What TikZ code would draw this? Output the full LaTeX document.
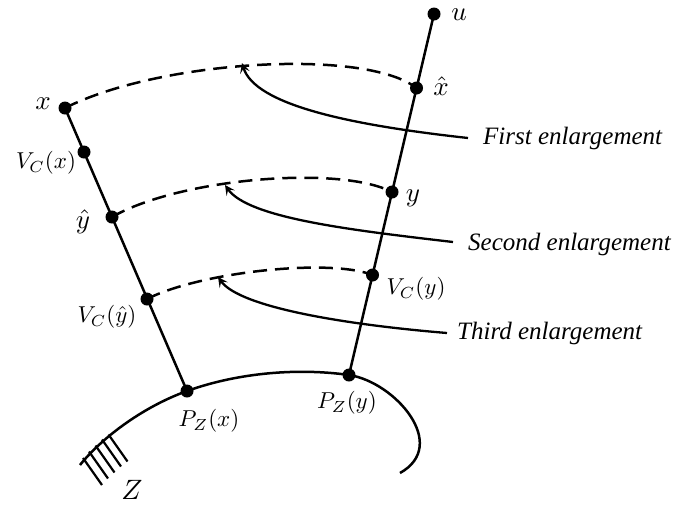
\documentclass[tikz,border=0pt]{standalone}
\usepackage{fontspec}
\setmainfont{Liberation Serif}
\usetikzlibrary{arrows.meta}
\begin{document}
\begin{tikzpicture}[x=1pt,y=-1pt,
  dot/.style={circle,fill=black,inner sep=0pt,minimum size=13pt},
  mainline/.style={line width=2.5pt},
  dashline/.style={line width=2.5pt,dash pattern=on 14pt off 8pt},
  arrline/.style={line width=2.3pt,-{Stealth[length=10pt,width=10pt,inset=4.5pt]}},
  mlabel/.style={inner sep=0pt,scale=2.3},
  slabel/.style={inner sep=0pt,scale=2.7},
  tlabel/.style={inner sep=0pt,anchor=base west,font=\fontsize{25}{30}\selectfont\itshape},
  hatch/.style={line width=2.2pt}]
\useasboundingbox (0,0) rectangle (679,507);
% points
\node[dot] (u) at (434,14) {};
\node[dot] (xh) at (416.5,88) {};
\node[dot] (y) at (392,192) {};
\node[dot] (vcy) at (372.5,275) {};
\node[dot] (pzy) at (349,375) {};
\node[dot] (x) at (65,108) {};
\node[dot] (vcx) at (84,152) {};
\node[dot] (yh) at (112,217) {};
\node[dot] (vcyh) at (147,299) {};
\node[dot] (pzx) at (187,391) {};
% main lines
\draw[mainline] (u.center) -- (pzy.center);
\draw[mainline] (x.center) -- (pzx.center);
% Z boundary
\draw[mainline] (80,465) .. controls (100,440) and (140,408) .. (pzx.center)
  .. controls (240,372) and (300,368) .. (pzy.center)
  .. controls (395,382) and (450,445) .. (400,473);
% hatching
\foreach \a/\b in {83/458,89/451.5,95.5/445.5,102/439.5,108.5/434.5}
  \draw[hatch] (\a,\b) -- ++(19,27);
% dashed arcs
\draw[dashline] (x.center) .. controls (160,60) and (365,48) .. (xh.center);
\draw[dashline] (yh.center) .. controls (180,178) and (340,165) .. (y.center);
\draw[dashline] (vcyh.center) .. controls (200,272) and (330,258) .. (vcy.center);
% labels
\node[slabel] (lu) at (459,15) {$u$};
\node[slabel] (lxh) at (441,86) {$\hat{x}$};
\node[slabel] (ly) at (413,198) {$y$};
\node[mlabel] (lvcy) at (416,289) {$V_C(y)$};
\node[mlabel] (lpzy) at (347,403) {$P_Z(y)$};
\node[mlabel] (lpzx) at (209,421) {$P_Z(x)$};
\node[mlabel] (lvcyh) at (107,317) {$V_C(\hat{y})$};
\node[slabel] (lyh) at (83,222) {$\hat{y}$};
\node[mlabel] (lvcx) at (46,163) {$V_C(x)$};
\node[slabel] (lx) at (43,104) {$x$};
\node[inner sep=0pt,scale=2.8] (lz) at (132,490) {$Z$};
% texts
\node[tlabel] (t1) at (483,144) {First enlargement};
\node[tlabel] (t2) at (468,250) {Second enlargement};
\node[tlabel] (t3) at (457,339) {Third enlargement};
\coordinate (s1) at (468,138);
\coordinate (s2) at (453,242);
\coordinate (s3) at (447,333);
\coordinate (e1) at (242,63);
\coordinate (e2) at (225,185);
\coordinate (e3) at (218,277);
\draw[arrline] (s1) .. controls (350,125) and (255,105) .. (e1);
\draw[arrline] (s2) .. controls (350,230) and (248,218) .. (e2);
\draw[arrline] (s3) .. controls (350,325) and (240,308) .. (e3);
\end{tikzpicture}
\end{document}
